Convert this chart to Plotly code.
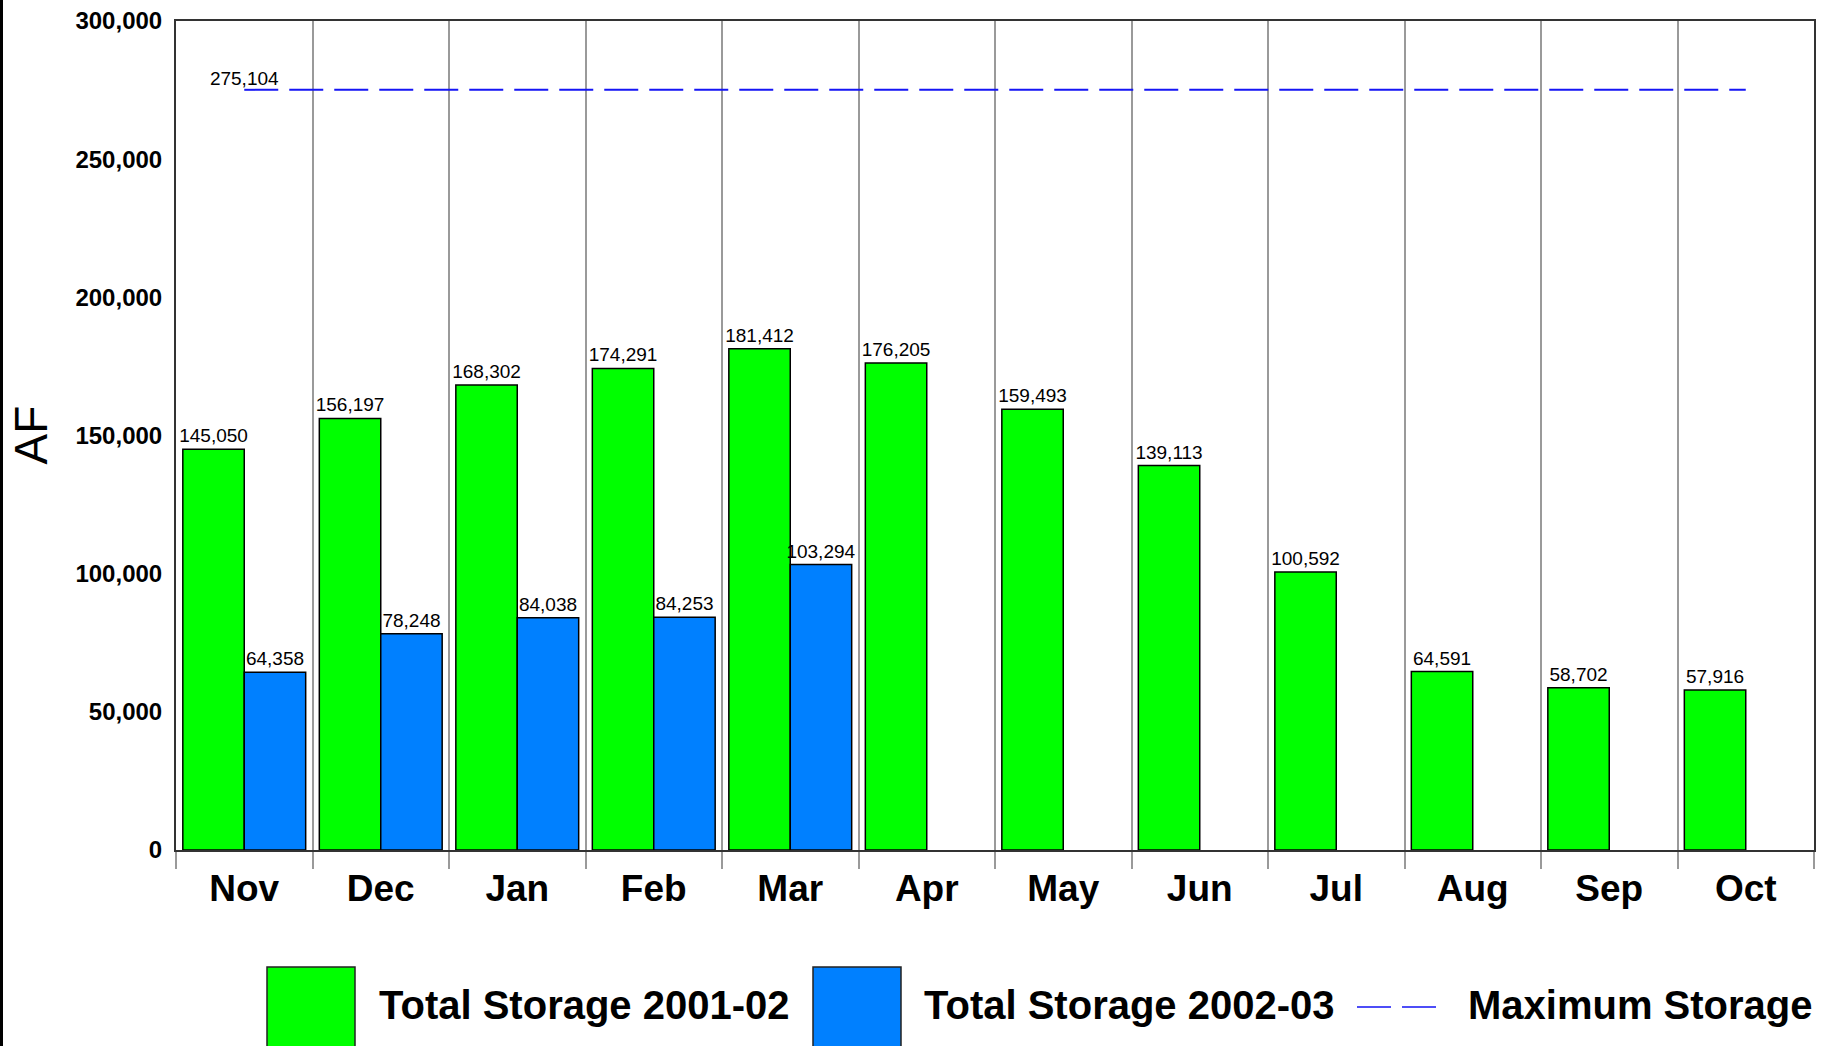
import plotly.graph_objects as go

months = ["Nov", "Dec", "Jan", "Feb", "Mar", "Apr", "May", "Jun", "Jul", "Aug", "Sep", "Oct"]
storage_2001_02 = [145050, 156197, 168302, 174291, 181412, 176205, 159493, 139113, 100592, 64591, 58702, 57916]
storage_2002_03 = [64358, 78248, 84038, 84253, 103294, None, None, None, None, None, None, None]
max_storage = 275104
y_ticks = [0, 50000, 100000, 150000, 200000, 250000, 300000]
y_title = "AF"

names = ["Total Storage 2001-02", "Total Storage 2002-03", "Maximum Storage"]
GREEN = "#00ff00"
BLUE = "#0080ff"
LINE_BLUE = "#1515f5"
FONT = "Liberation Sans, Arial, sans-serif"

W, H = 1822, 1046
ML, MR, MT, MB = 176, 8, 21, 196
PW, PH = W - ML - MR, H - MT - MB


def px(x):
    return (x - ML) / PW


def py(y):
    return (H - MB - y) / PH


def fmt(v):
    return "" if v is None else f"{v:,}"


fig = go.Figure()
fig.add_trace(go.Bar(
    x=months, y=storage_2001_02, name=names[0],
    marker=dict(color=GREEN, line=dict(color="black", width=1.5)),
    text=[fmt(v) for v in storage_2001_02], textposition="outside",
    textfont=dict(size=19, color="black", family=FONT),
    constraintext="none", cliponaxis=False,
))
fig.add_trace(go.Bar(
    x=months, y=storage_2002_03, name=names[1],
    marker=dict(color=BLUE, line=dict(color="black", width=1.5)),
    text=[fmt(v) for v in storage_2002_03], textposition="outside",
    textfont=dict(size=19, color="black", family=FONT),
    constraintext="none", cliponaxis=False,
))
fig.add_trace(go.Scatter(
    x=months, y=[max_storage] * len(months), name=names[2],
    mode="lines+text",
    line=dict(color=LINE_BLUE, width=2, dash="34px,11px"),
    text=[fmt(max_storage)] + [""] * (len(months) - 1),
    textposition="top center",
    textfont=dict(size=19, color="black", family=FONT),
    cliponaxis=False,
))

fig.update_layout(
    width=W, height=H,
    margin=dict(l=ML, r=MR, t=MT, b=MB, autoexpand=False),
    paper_bgcolor="white", plot_bgcolor="white",
    barmode="group", bargap=0.1, bargroupgap=0,
    showlegend=False,
    font=dict(family=FONT, color="black"),
)
fig.update_xaxes(
    type="category", tickson="boundaries", automargin=False,
    range=[-0.5, len(months) - 0.5],
    showgrid=True, gridcolor="#9a9a9a", gridwidth=1.5,
    ticks="outside", ticklen=17, tickcolor="#9a9a9a", tickwidth=1.5,
    ticklabelstandoff=5,
    showline=True, linecolor="#333333", linewidth=2, mirror=True,
    tickfont=dict(size=37, family=FONT, weight="bold", color="black"),
)
fig.update_yaxes(
    range=[0, 300000], tickvals=y_ticks, tickformat=",d", automargin=False,
    showgrid=False, zeroline=False,
    showline=True, linecolor="#333333", linewidth=2, mirror=True,
    ticks="", ticklabelstandoff=7,
    tickfont=dict(size=24, family=FONT, weight="bold", color="black"),
)

LEG_FONT = dict(size=40, family=FONT, weight="bold", color="black")
shapes = []
annotations = []
# y-axis title
annotations.append(dict(xref="paper", yref="paper", x=px(30), y=0.5,
                        xanchor="center", yanchor="middle", showarrow=False,
                        textangle=-90, text=y_title,
                        font=dict(size=46, family=FONT, color="black")))
# custom legend matching the original's large swatches
shapes.append(dict(type="rect", xref="paper", yref="paper",
                   x0=px(267), x1=px(355), y0=py(1060), y1=py(967),
                   fillcolor=GREEN, line=dict(color="#222222", width=1.5)))
annotations.append(dict(xref="paper", yref="paper", x=px(377), y=py(1005),
                        xanchor="left", yanchor="middle", showarrow=False,
                        text=names[0], font=LEG_FONT))
shapes.append(dict(type="rect", xref="paper", yref="paper",
                   x0=px(813), x1=px(901), y0=py(1060), y1=py(967),
                   fillcolor=BLUE, line=dict(color="#222222", width=1.5)))
annotations.append(dict(xref="paper", yref="paper", x=px(922), y=py(1005),
                        xanchor="left", yanchor="middle", showarrow=False,
                        text=names[1], font=LEG_FONT))
shapes.append(dict(type="line", xref="paper", yref="paper",
                   x0=px(1357), x1=px(1436), y0=py(1007), y1=py(1007),
                   line=dict(color=LINE_BLUE, width=1.5, dash="34px,11px")))
annotations.append(dict(xref="paper", yref="paper", x=px(1466), y=py(1005),
                        xanchor="left", yanchor="middle", showarrow=False,
                        text=names[2], font=LEG_FONT))
# left page border
shapes.append(dict(type="line", xref="paper", yref="paper",
                   x0=px(1.5), x1=px(1.5), y0=py(H + 5), y1=py(-5),
                   line=dict(color="black", width=3)))

fig.update_layout(shapes=shapes, annotations=annotations)
fig.write_html(
    "out.html",
    config={"displayModeBar": False},
    post_script="document.body.style.margin='0';document.body.style.overflow='hidden';",
)
